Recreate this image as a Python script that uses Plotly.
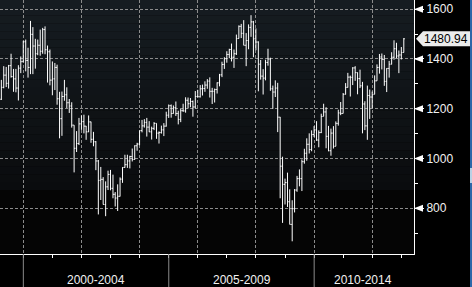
import plotly.graph_objects as go
import pandas as pd

# Monthly S&P 500 style OHLC, Mar 1999 - Jan 2013 (values read/estimated from the chart)
start_month = "1999-03-31"
opens = [1238,1286,1335,1302,1373,1329,1320,1283,1363,1389,
         1469,1394,1366,1499,1452,1421,1455,1431,1518,1437,1429,1315,
         1320,1366,1240,1160,1249,1256,1224,1211,1134,1041,1060,1139,
         1148,1130,1107,1147,1077,1067,990,912,916,815,886,936,
         880,856,841,848,917,964,975,990,1008,996,1051,1058,
         1112,1131,1145,1126,1107,1121,1141,1102,1104,1115,1130,1174,
         1212,1181,1204,1181,1157,1192,1191,1234,1220,1229,1207,1249,
         1248,1280,1281,1295,1311,1270,1270,1277,1304,1336,1378,1401,
         1418,1438,1407,1421,1482,1531,1503,1455,1474,1527,1549,1481,
         1468,1379,1331,1323,1386,1400,1280,1267,1283,1166,969,896,
         903,826,735,798,873,919,919,987,1021,1057,1036,1096,
         1115,1074,1104,1169,1187,1089,1031,1102,1049,1141,1183,1181,
         1258,1286,1327,1326,1364,1345,1321,1292,1219,1131,1253,1247,
         1258,1312,1366,1408,1398,1310,1362,1379,1407,1441,1412,1416,
         1426]
highs = [1316,1371,1368,1376,1421,1360,1360,1375,1410,1473,
         1478,1445,1553,1528,1481,1478,1518,1525,1531,1454,1438,1390,
         1384,1377,1268,1269,1316,1286,1239,1226,1134,1110,1163,1173,
         1176,1131,1173,1148,1107,1070,994,966,925,908,951,954,
         935,865,896,924,965,1015,1015,1011,1040,1053,1063,1112,
         1155,1158,1163,1150,1128,1146,1141,1109,1132,1142,1188,1217,
         1217,1213,1229,1192,1199,1220,1246,1245,1243,1233,1271,1276,
         1295,1297,1310,1319,1326,1284,1281,1306,1340,1389,1407,1431,
         1441,1462,1438,1498,1535,1541,1556,1504,1539,1576,1553,1523,
         1471,1396,1359,1397,1441,1405,1293,1314,1304,1167,1007,919,
         943,876,832,877,930,956,996,1039,1081,1101,1113,1130,
         1150,1113,1180,1220,1206,1131,1120,1130,1149,1196,1227,1263,
         1303,1344,1333,1367,1371,1346,1357,1308,1230,1293,1277,1269,
         1334,1378,1420,1422,1416,1363,1392,1427,1475,1465,1434,1448,
         1484]
lows = [1235,1282,1287,1281,1325,1268,1266,1233,1343,1387,
        1350,1325,1339,1339,1361,1415,1413,1421,1419,1305,1294,1254,
        1275,1216,1081,1091,1232,1203,1183,1124,944,1026,1054,1115,
        1101,1075,1106,1063,1049,953,775,833,815,768,873,872,
        840,807,789,847,902,963,962,960,988,995,1031,1053,
        1105,1124,1088,1106,1076,1114,1079,1060,1100,1090,1128,1163,
        1164,1180,1171,1137,1146,1188,1184,1201,1206,1168,1201,1246,
        1245,1253,1268,1280,1245,1219,1225,1261,1290,1327,1360,1385,
        1403,1390,1364,1416,1482,1484,1455,1371,1439,1489,1407,1435,
        1270,1317,1257,1314,1373,1272,1200,1247,1106,840,741,815,
        805,735,667,783,866,888,869,979,991,1020,1029,1086,
        1071,1045,1102,1170,1041,1029,1011,1040,1049,1132,1174,1181,
        1257,1285,1249,1295,1312,1258,1283,1101,1114,1075,1159,1202,
        1258,1312,1341,1358,1292,1267,1325,1378,1397,1403,1343,1398,
        1426]
closes = [1286,1335,1302,1373,1329,1320,1283,1363,1389,1469,
          1394,1366,1499,1452,1421,1455,1431,1518,1437,1429,1315,1320,
          1366,1240,1160,1249,1256,1224,1211,1134,1041,1060,1139,1148,
          1130,1107,1147,1077,1067,990,912,916,815,886,936,880,
          856,841,848,917,964,975,990,1008,996,1051,1058,1112,
          1131,1145,1126,1107,1121,1141,1102,1104,1115,1130,1174,1212,
          1181,1204,1181,1157,1192,1191,1234,1220,1229,1207,1249,1248,
          1280,1281,1295,1311,1270,1270,1277,1304,1336,1378,1401,1418,
          1438,1407,1421,1482,1531,1503,1455,1474,1527,1549,1481,1468,
          1379,1331,1323,1386,1400,1280,1267,1283,1166,969,896,903,
          826,735,798,873,919,919,987,1021,1057,1036,1096,1115,
          1074,1104,1169,1187,1089,1031,1102,1049,1141,1183,1181,1258,
          1286,1327,1326,1364,1345,1321,1292,1219,1131,1253,1247,1258,
          1312,1366,1408,1398,1310,1362,1379,1407,1441,1412,1416,1426,
          1480.94]

y_ticks = [800, 1000, 1200, 1400, 1600]
period_labels = ["2000-2004", "2005-2009", "2010-2014"]
period_starts = ["2000-01-01", "2005-01-01", "2010-01-01"]
period_centers = ["2002-07-02", "2007-07-08", "2011-09-05"]
last_label = "1480.94"

dates = pd.date_range(start_month, periods=len(closes), freq="ME")

W, H = 472, 287
ml, mr, mt, mb = 0, 58, 0, 33
plot_h = H - mt - mb

fig = go.Figure()
fig.add_trace(go.Ohlc(
    x=dates, open=opens, high=highs, low=lows, close=closes,
    increasing=dict(line=dict(color="#ffffff", width=1)),
    decreasing=dict(line=dict(color="#ffffff", width=1)),
    tickwidth=0.45, showlegend=False, hoverinfo="skip",
))

shapes = []
# background vertical gradient
top_rgb = (22, 28, 33)
mid_rgb = (10, 12, 14)
n = 24
grad_end = 190
for i in range(n):
    p0 = grad_end * i / n
    p1 = grad_end * (i + 1) / n
    t = i / (n - 1)
    c = tuple(round(top_rgb[k] + (mid_rgb[k] - top_rgb[k]) * t) for k in range(3))
    shapes.append(dict(type="rect", xref="paper", yref="paper", x0=0, x1=1,
                       y0=1 - p1 / plot_h, y1=1 - p0 / plot_h,
                       fillcolor="rgb(%d,%d,%d)" % c, line=dict(width=0), layer="below"))

# period separators below the x axis
for s in period_starts:
    shapes.append(dict(type="line", xref="x", yref="paper", x0=s, x1=s,
                       y0=0, y1=-mb / plot_h, line=dict(color="#8a8a8a", width=1)))

# arrow flags at major y ticks
for v in y_ticks:
    shapes.append(dict(type="path", xref="paper", yref="y", xsizemode="pixel", ysizemode="pixel",
                       xanchor=1, yanchor=v, path="M 0,0 L 9,3.5 L 9,-3.5 Z",
                       fillcolor="#ffffff", line=dict(width=0)))

# last price label box
shapes.append(dict(type="path", xref="paper", yref="y", xsizemode="pixel", ysizemode="pixel",
                   xanchor=1, yanchor=closes[-1],
                   path="M 2,0 L 9,7.5 L 56,7.5 L 56,-7.5 L 9,-7.5 Z",
                   fillcolor="#ececec", line=dict(width=0)))

# blue strip at right edge
shapes.append(dict(type="rect", xref="paper", yref="paper",
                   x0=470 / 414, x1=473 / 414, y0=-mb / plot_h, y1=1,
                   fillcolor="#2c68a8", line=dict(width=0)))
shapes.append(dict(type="rect", xref="paper", yref="paper",
                   x0=470 / 414, x1=473 / 414, y0=(254 - 183) / plot_h, y1=(254 - 168) / plot_h,
                   fillcolor="#b8d0e4", line=dict(width=0)))

annotations = []
for lab, c in zip(period_labels, period_centers):
    annotations.append(dict(x=c, xref="x", y=-26 / plot_h, yref="paper", text=lab,
                            showarrow=False, xanchor="center", yanchor="middle",
                            font=dict(family="Liberation Sans, Arial", size=12, color="#f2f2f2")))
annotations.append(dict(x=1, xref="paper", y=closes[-1], yref="y", text=last_label,
                        showarrow=False, xanchor="left", yanchor="middle", xshift=8,
                        font=dict(family="Liberation Sans, Arial", size=12, color="#000000")))

fig.update_layout(
    width=W, height=H,
    margin=dict(l=ml, r=mr, t=mt, b=mb, pad=0),
    paper_bgcolor="#000000", plot_bgcolor="#050505",
    shapes=shapes, annotations=annotations,
    xaxis=dict(
        type="date", range=["1999-03-14", "2013-06-08"],
        rangeslider=dict(visible=False),
        tick0="2000-01-01", dtick="M24",
        showgrid=True, gridcolor="#8c8c8c", griddash="3px,2px", gridwidth=1,
        ticks="outside", ticklen=3, tickcolor="#ffffff", tickwidth=1,
        showticklabels=False,
        minor=dict(tick0="2000-01-01", dtick="M12", ticks="outside", ticklen=3,
                   tickcolor="#ffffff", tickwidth=1, showgrid=False),
        showline=True, linecolor="#ffffff", linewidth=1,
        zeroline=False, fixedrange=True,
    ),
    yaxis=dict(
        side="right", range=[616, 1637],
        tickvals=y_ticks,
        showgrid=True, gridcolor="#8c8c8c", griddash="3px,2px", gridwidth=1,
        ticks="outside", ticklen=9, tickcolor="#ffffff", tickwidth=1,
        tickfont=dict(family="Liberation Sans, Arial", size=12, color="#f2f2f2"),
        minor=dict(tickvals=[700, 900, 1100, 1300, 1500], ticks="outside", ticklen=3,
                   tickcolor="#ffffff", tickwidth=1, showgrid=False),
        showline=True, linecolor="#ffffff", linewidth=1,
        zeroline=False, fixedrange=True,
    ),
)

fig.write_html("out.html")
